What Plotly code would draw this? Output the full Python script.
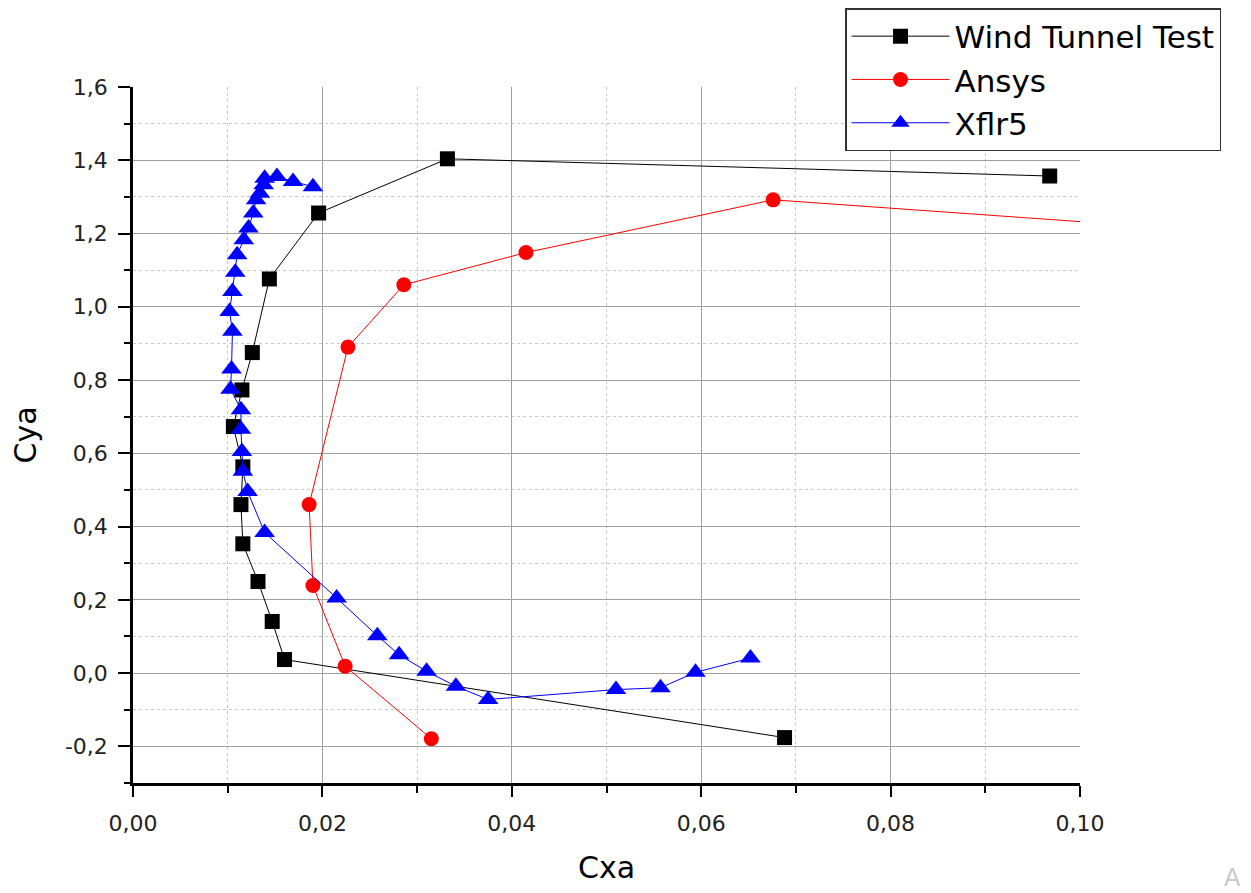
import plotly.graph_objects as go

# ---------------- data ----------------
wind_cx = [0.0688, 0.0160, 0.0147, 0.0132, 0.0116, 0.0114, 0.0116, 0.0106, 0.0115,
           0.0126, 0.0144, 0.0196, 0.0332, 0.0968]
wind_cy = [-0.176, 0.037, 0.141, 0.250, 0.353, 0.460, 0.563, 0.673, 0.773,
           0.875, 1.076, 1.256, 1.404, 1.357]

ansys_cx = [0.0315, 0.0224, 0.0190, 0.0186, 0.0227, 0.0286, 0.0415, 0.0676, 0.1155]
ansys_cy = [-0.179, 0.019, 0.239, 0.460, 0.890, 1.060, 1.148, 1.292, 1.204]

xflr_cx = [0.0652, 0.0594, 0.0557, 0.0510, 0.0375, 0.0341, 0.0310, 0.0281, 0.0258,
           0.0215, 0.0139, 0.0121, 0.0116, 0.0115, 0.0114, 0.0114, 0.0103, 0.0104,
           0.0105, 0.0102, 0.0105, 0.0108, 0.0110, 0.0117, 0.0122, 0.0127, 0.0130,
           0.0134, 0.0138, 0.0139, 0.0152, 0.0169, 0.0190]
xflr_cy = [0.041, 0.002, -0.040, -0.045, -0.072, -0.036, 0.005, 0.050, 0.102,
           0.205, 0.384, 0.496, 0.551, 0.605, 0.666, 0.719, 0.775, 0.830,
           0.933, 0.987, 1.042, 1.094, 1.142, 1.183, 1.215, 1.256, 1.292,
           1.310, 1.333, 1.351, 1.356, 1.342, 1.328]

series_names = ["Wind Tunnel Test", "Ansys", "Xflr5"]

x_tick_vals = [0.00, 0.02, 0.04, 0.06, 0.08, 0.10]
x_tick_text = ["0,00", "0,02", "0,04", "0,06", "0,08", "0,10"]
x_minor_vals = [0.01, 0.03, 0.05, 0.07, 0.09]

y_tick_vals = [-0.2, 0.0, 0.2, 0.4, 0.6, 0.8, 1.0, 1.2, 1.4, 1.6]
y_tick_text = ["-0,2", "0,0", "0,2", "0,4", "0,6", "0,8", "1,0", "1,2", "1,4", "1,6"]
y_minor_vals = [-0.3, -0.1, 0.1, 0.3, 0.5, 0.7, 0.9, 1.1, 1.3, 1.5]

x_title = "Cxa"
y_title = "Cya"

# ---------------- figure ----------------
FONT = "DejaVu Sans"
W, H = 1243, 885
fig = go.Figure()

fig.add_trace(go.Scatter(
    x=wind_cx, y=wind_cy, mode="lines+markers", name=series_names[0],
    line=dict(color="#000000", width=1),
    marker=dict(symbol="square", size=15, color="#000000"),
))
fig.add_trace(go.Scatter(
    x=ansys_cx, y=ansys_cy, mode="lines+markers", name=series_names[1],
    line=dict(color="#ff0000", width=1),
    marker=dict(symbol="circle", size=15, color="#ff0000"),
))
fig.add_trace(go.Scatter(
    x=xflr_cx, y=xflr_cy, mode="lines+markers", name=series_names[2],
    line=dict(color="#0000ff", width=1),
    marker=dict(symbol="triangle-up", size=18, color="#0000ff"),
))

axis_common = dict(
    showline=True, linecolor="#000000", linewidth=2.5,
    ticks="outside", tickcolor="#000000", tickwidth=2,
    showgrid=True, gridcolor="#a0a0a0", gridwidth=1.3,
    zeroline=False,
    tickfont=dict(family=FONT, size=22, color="#222222"),
    title_font=dict(family=FONT, size=30, color="#000000"),
    mirror=False,
)

fig.update_xaxes(
    **axis_common,
    range=[0, 0.10],
    tickmode="array", tickvals=x_tick_vals, ticktext=x_tick_text,
    ticklen=11,
    minor=dict(tickmode="array", tickvals=x_minor_vals, ticks="outside", ticklen=7,
               tickwidth=2, tickcolor="#000000",
               showgrid=True, gridcolor="#c8c8c8", griddash="dot", gridwidth=1),
    title=dict(text=x_title, standoff=22),
    ticklabelstandoff=8,
)
fig.update_yaxes(
    **axis_common,
    range=[-0.3, 1.6],
    tickmode="array", tickvals=y_tick_vals, ticktext=y_tick_text,
    ticklen=12,
    minor=dict(tickmode="array", tickvals=y_minor_vals, ticks="outside", ticklen=6,
               tickwidth=2, tickcolor="#000000",
               showgrid=True, gridcolor="#c8c8c8", griddash="dot", gridwidth=1),
    title=dict(text=y_title, standoff=24),
    ticklabelstandoff=6,
)

fig.update_layout(
    width=W, height=H,
    margin=dict(l=125, r=171, t=79, b=110, autoexpand=False),
    paper_bgcolor="#ffffff", plot_bgcolor="#ffffff",
    font=dict(family=FONT, color="#000000"),
    showlegend=True,
    legend=dict(
        xref="container", yref="container",
        x=837 / W, y=1, xanchor="left", yanchor="top",
        bgcolor="#ffffff", bordercolor="#333333", borderwidth=1.5,
        font=dict(family=FONT, size=31, color="#000000"),
        itemwidth=98,
    ),
    annotations=[dict(
        text="A", xref="paper", yref="paper", x=(1224 - 125) / (1072 - 125),
        y=-(870 - 775) / (775 - 79), showarrow=False,
        font=dict(family=FONT, size=24, color="#c8c8c8"),
        xanchor="center", yanchor="middle",
    )],
)

fig.write_html("out.html")
